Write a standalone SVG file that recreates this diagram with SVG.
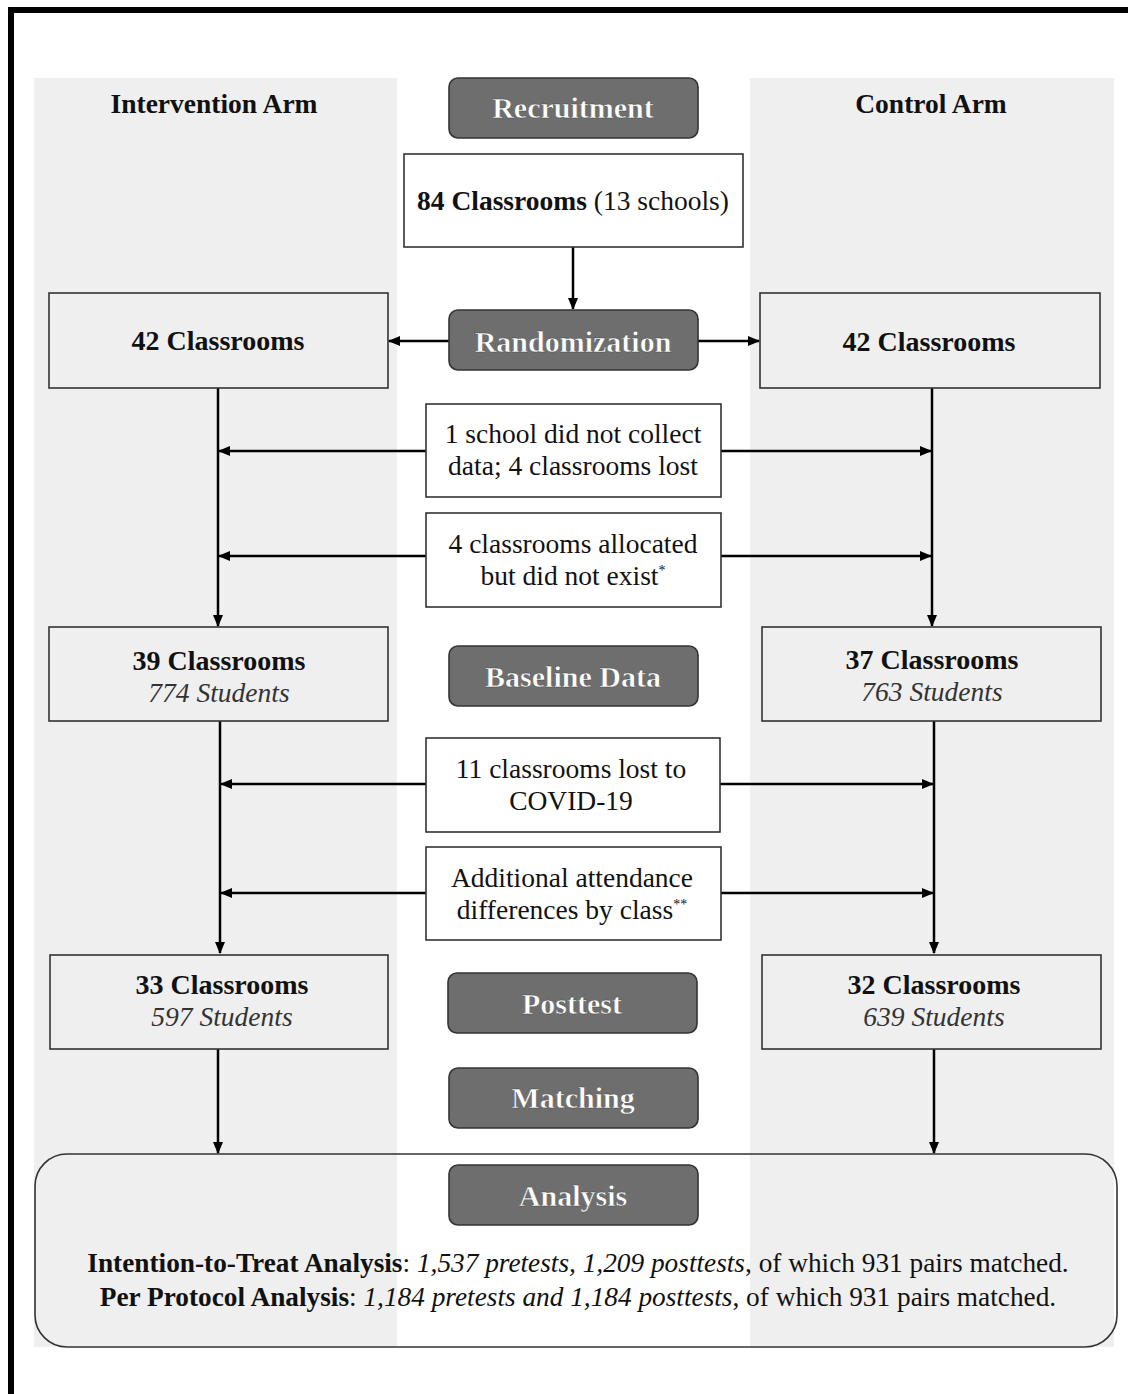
<svg xmlns="http://www.w3.org/2000/svg" width="1128" height="1394" viewBox="0 0 1128 1394">
<style>
.band{fill:#efefef}
.box{fill:#fff;stroke:#333;stroke-width:1.6}
.sbox{fill:none;stroke:#333;stroke-width:1.6}
.stage{fill:#6e6e6e;stroke:#333;stroke-width:1.6}
.st{font-family:"Liberation Serif","Times New Roman",serif;font-weight:bold;font-size:30px;fill:#fff;stroke:#444;stroke-width:0.4;text-anchor:middle}
.t{font-family:"Liberation Serif","Times New Roman",serif;font-size:27.5px;fill:#111;text-anchor:middle}
.b{font-weight:bold}
.c{font-size:28px}
.i{font-style:italic;fill:#333}
.an{font-size:27.3px}
.con{fill:none;stroke:#000;stroke-width:2.5}
</style>
<defs>
<marker id="ah" markerUnits="userSpaceOnUse" markerWidth="12" markerHeight="10" refX="11" refY="5" orient="auto">
<path d="M0,0 L12,5 L0,10 z" fill="#000"/>
</marker>
</defs>
<rect width="1128" height="1394" fill="#fff"/>
<path d="M11,1394 V10 H1128" fill="none" stroke="#000" stroke-width="6"/>
<rect class="band" x="34" y="78" width="363" height="1269"/>
<rect class="band" x="750" y="78" width="364" height="1269"/>
<text class="t b" x="214" y="113" font-size="27">Intervention Arm</text>
<text class="t b" x="931" y="113" font-size="27">Control Arm</text>

<g id="connectors">
<path class="con" d="M573,247 V309" marker-end="url(#ah)"/>
<path class="con" d="M449,341 H389" marker-end="url(#ah)"/>
<path class="con" d="M698,341 H759" marker-end="url(#ah)"/>
<path class="con" d="M218,388 V626" marker-end="url(#ah)"/>
<path class="con" d="M932,388 V626" marker-end="url(#ah)"/>
<path class="con" d="M426,451 H219" stroke-width="1.6" marker-end="url(#ah)"/>
<path class="con" d="M721,451 H931" stroke-width="1.6" marker-end="url(#ah)"/>
<path class="con" d="M426,556 H219" stroke-width="1.6" marker-end="url(#ah)"/>
<path class="con" d="M721,556 H931" stroke-width="1.6" marker-end="url(#ah)"/>
<path class="con" d="M220,721 V953" marker-end="url(#ah)"/>
<path class="con" d="M934,721 V953" marker-end="url(#ah)"/>
<path class="con" d="M426,784 H221" stroke-width="1.6" marker-end="url(#ah)"/>
<path class="con" d="M720,784 H933" stroke-width="1.6" marker-end="url(#ah)"/>
<path class="con" d="M426,893 H221" stroke-width="1.6" marker-end="url(#ah)"/>
<path class="con" d="M721,893 H933" stroke-width="1.6" marker-end="url(#ah)"/>
<path class="con" d="M218,1049 V1153" marker-end="url(#ah)"/>
<path class="con" d="M934,1049 V1153" marker-end="url(#ah)"/>
</g>

<g id="recruitment"><rect class="stage" x="449" y="78" width="249" height="60" rx="9"/><text class="st" x="573" y="118">Recruitment</text></g>
<g id="classrooms84"><rect class="box" x="404" y="154" width="339" height="93"/><text class="t" x="573" y="210"><tspan class="b">84 Classrooms</tspan> (13 schools)</text></g>
<g id="randomization"><rect class="stage" x="449" y="310" width="249" height="60" rx="9"/><text class="st" x="573" y="352">Randomization</text></g>
<g id="int42"><rect class="sbox" x="49" y="293" width="339" height="95"/><text class="t b c" x="218" y="350">42 Classrooms</text></g>
<g id="ctl42"><rect class="sbox" x="760" y="293" width="340" height="95"/><text class="t b c" x="929" y="351">42 Classrooms</text></g>
<g id="lost1"><rect class="box" x="426" y="404" width="295" height="93"/><text class="t" x="573" y="443">1 school did not collect</text><text class="t" x="573" y="475">data; 4 classrooms lost</text></g>
<g id="lost2"><rect class="box" x="426" y="513" width="295" height="94"/><text class="t" x="573" y="553">4 classrooms allocated</text><text class="t" x="573" y="585">but did not exist<tspan font-size="14" dy="-10">*</tspan></text></g>
<g id="int39"><rect class="sbox" x="49" y="627" width="339" height="94"/><text class="t b c" x="219" y="670">39 Classrooms</text><text class="t i" x="219" y="702">774 Students</text></g>
<g id="baseline"><rect class="stage" x="449" y="646" width="249" height="60" rx="9"/><text class="st" x="573" y="687">Baseline Data</text></g>
<g id="ctl37"><rect class="sbox" x="762" y="627" width="339" height="94"/><text class="t b c" x="932" y="669">37 Classrooms</text><text class="t i" x="932" y="701">763 Students</text></g>
<g id="lost3"><rect class="box" x="426" y="738" width="294" height="94"/><text class="t" x="571" y="778">11 classrooms lost to</text><text class="t" x="571" y="810">COVID-19</text></g>
<g id="lost4"><rect class="box" x="426" y="847" width="295" height="93"/><text class="t" x="572" y="887">Additional attendance</text><text class="t" x="572" y="919">differences by class<tspan font-size="14" dy="-10">**</tspan></text></g>
<g id="int33"><rect class="sbox" x="50" y="955" width="338" height="94"/><text class="t b c" x="222" y="994">33 Classrooms</text><text class="t i" x="222" y="1026">597 Students</text></g>
<g id="posttest"><rect class="stage" x="448" y="973" width="249" height="60" rx="9"/><text class="st" x="572" y="1014">Posttest</text></g>
<g id="ctl32"><rect class="sbox" x="762" y="955" width="339" height="94"/><text class="t b c" x="934" y="994">32 Classrooms</text><text class="t i" x="934" y="1026">639 Students</text></g>
<g id="matching"><rect class="stage" x="449" y="1068" width="249" height="60" rx="9"/><text class="st" x="573" y="1108">Matching</text></g>
<g id="analysisbox"><rect x="35" y="1154" width="1082" height="193" rx="32" fill="none" stroke="#333" stroke-width="1.6"/>
<rect class="stage" x="449" y="1165" width="249" height="60" rx="9"/><text class="st" x="573" y="1206">Analysis</text>
<text class="t an" x="578" y="1272"><tspan class="b">Intention-to-Treat Analysis</tspan>: <tspan font-style="italic">1,537 pretests, 1,209 posttests</tspan>, of which 931 pairs matched.</text>
<text class="t an" x="578" y="1306"><tspan class="b">Per Protocol Analysis</tspan>: <tspan font-style="italic">1,184 pretests and 1,184 posttests</tspan>, of which 931 pairs matched.</text>
</g>
</svg>
